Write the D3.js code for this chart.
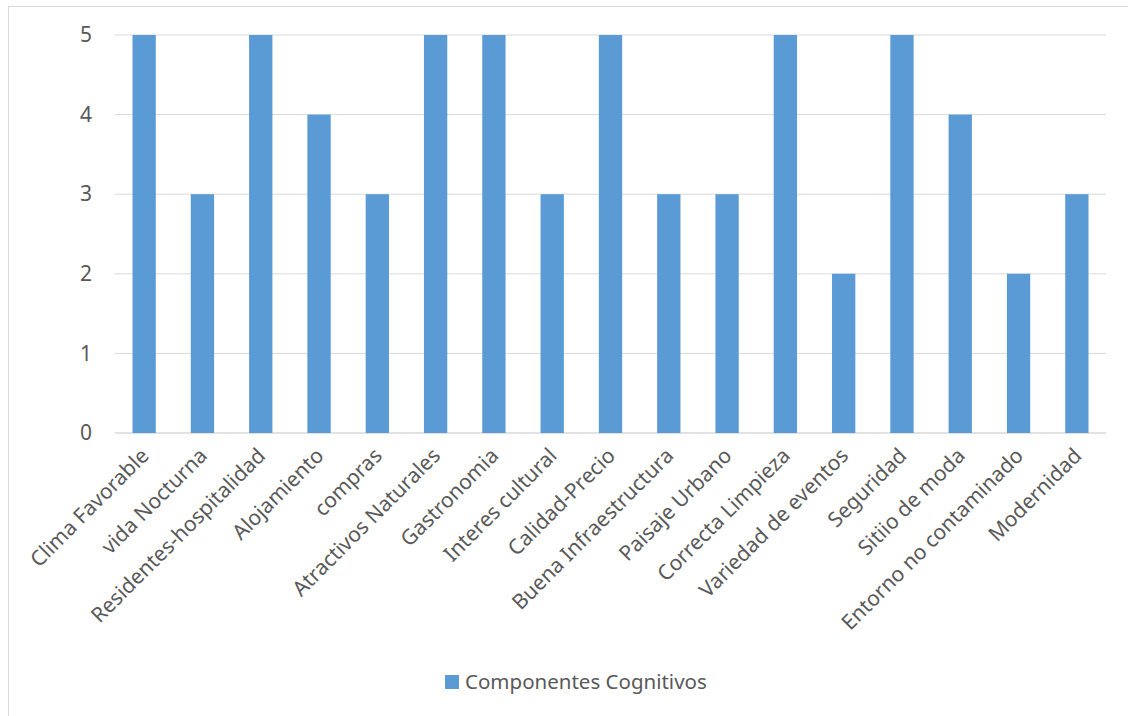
<!DOCTYPE html>
<html><head><meta charset="utf-8">
<script src="https://cdn.jsdelivr.net/npm/d3@7"></script>
<style>body{margin:0;background:#fff;} svg{display:block;font-family:"Noto Sans",sans-serif;}</style>
</head><body>
<svg id="chart" width="1128" height="716"></svg>
<script>
const categories = ["Clima Favorable","vida Nocturna","Residentes-hospitalidad","Alojamiento","compras","Atractivos Naturales","Gastronomia","Interes cultural","Calidad-Precio","Buena Infraestructura","Paisaje Urbano","Correcta Limpieza","Variedad de eventos","Seguridad","Sitiio de moda","Entorno no contaminado","Modernidad"];
const values = [5,3,5,4,3,5,5,3,5,3,3,5,2,5,4,2,3];
const yTicks = [0,1,2,3,4,5];
const seriesName = "Componentes Cognitivos";

const svg = d3.select("#chart");
const W = 1128, H = 716;
const m = {left:115, right:W-1106, top:35, bottom:H-433};
svg.append("rect").attr("x",8.5).attr("y",6.5).attr("width",1200).attr("height",800)
  .attr("fill","#fff").attr("stroke","#d9d9d9");

const x = d3.scaleBand().domain(categories).range([m.left, W-m.right]).paddingInner(0.6).paddingOuter(0.3);
const y = d3.scaleLinear().domain([0,5]).range([H-m.bottom, m.top]);

const grid = svg.append("g");
grid.selectAll("line").data(yTicks).join("line")
  .attr("x1",m.left).attr("x2",W-m.right)
  .attr("y1",d=>y(d)).attr("y2",d=>y(d))
  .attr("stroke","#d9d9d9").attr("stroke-width",d=>d===0?1.5:1);

const yAxis = d3.axisLeft(y).tickValues(yTicks).tickFormat(d3.format("d")).tickSize(0).tickPadding(23);
const ya = svg.append("g").attr("transform",`translate(${m.left},0)`).call(yAxis);
ya.select(".domain").remove();
ya.attr("font-family",null).attr("font-size",null);
ya.selectAll("text").attr("font-size",21).attr("fill","#595959");

svg.append("g").selectAll("rect").data(values).join("rect")
  .attr("x",(d,i)=>x(categories[i])).attr("width",x.bandwidth())
  .attr("y",d=>y(d)).attr("height",d=>y(0)-y(d))
  .attr("fill","#5b9bd5");

const xAxis = d3.axisBottom(x).tickSize(0).tickPadding(0);
const xa = svg.append("g").attr("transform",`translate(0,${y(0)})`).call(xAxis);
xa.select(".domain").remove();
xa.attr("font-family",null).attr("font-size",null);
xa.selectAll("text").attr("font-size",21).attr("fill","#595959")
  .attr("text-anchor","end").attr("dy",null).attr("y",null)
  .attr("transform","translate(6,24) rotate(-45)");

const lg = svg.append("g").attr("transform","translate(445,675)");
lg.append("rect").attr("width",14).attr("height",14).attr("fill","#5b9bd5");
lg.append("text").attr("x",20).attr("y",14).attr("font-size",20.5).attr("fill","#595959").text(seriesName);
</script>
</body></html>
